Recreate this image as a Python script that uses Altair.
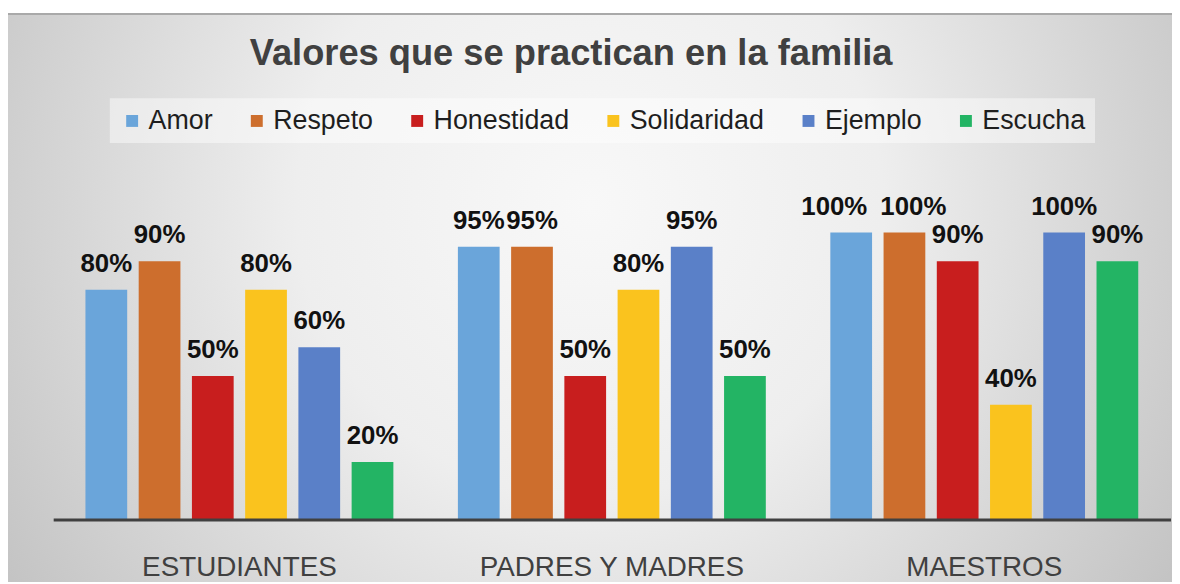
import altair as alt
import pandas as pd

grupos = ["ESTUDIANTES", "PADRES Y MADRES", "MAESTROS"]
valores = ["Amor", "Respeto", "Honestidad", "Solidaridad", "Ejemplo", "Escucha"]
colores = ["#6AA5DA", "#CD6E2D", "#C81E1E", "#FAC31E", "#5A80C8", "#23B464"]

estudiantes = [0.80, 0.90, 0.50, 0.80, 0.60, 0.20]
padres = [0.95, 0.95, 0.50, 0.80, 0.95, 0.50]
maestros = [1.00, 1.00, 0.90, 0.40, 1.00, 0.90]

rows = []
for g, serie in zip(grupos, [estudiantes, padres, maestros]):
    for v, p in zip(valores, serie):
        rows.append({"grupo": g, "valor": v, "pct": p})
df = pd.DataFrame(rows)

W, H = 1125, 289
FONT = "Liberation Sans"

bg = alt.Chart(pd.DataFrame({"k": [0]})).mark_rect(
    fill={
        "gradient": "radial",
        "x1": 0.5, "y1": 0.42, "r1": 0,
        "x2": 0.5, "y2": 0.42, "r2": 0.72,
        "stops": [
            {"offset": 0, "color": "#f8f8f8"},
            {"offset": 0.35, "color": "#eeeeee"},
            {"offset": 1, "color": "#b4b4b4"},
        ],
    }
).encode(
    x=alt.value(-46.5), x2=alt.value(1126.5), y=alt.value(-220), y2=alt.value(352)
)

top_line = alt.Chart(pd.DataFrame({"k": [0]})).mark_rule(
    color="#a9a9a9", strokeWidth=2
).encode(x=alt.value(-46.5), x2=alt.value(1126.5), y=alt.value(-220))

x_enc = alt.X(
    "grupo:N", sort=grupos, title=None,
    scale=alt.Scale(paddingInner=0, paddingOuter=0),
    axis=alt.Axis(
        domainColor="#404040", domainWidth=3, ticks=False, tickSize=0,
        labelFont=FONT, labelFontSize=28, labelColor="#404040",
        labelBaseline="alphabetic", labelPadding=56, labelAngle=0,
        labelLimit=500, grid=False, zindex=1,
    ),
)
xo_enc = alt.XOffset("valor:N", sort=valores,
                     scale=alt.Scale(paddingInner=0.216, paddingOuter=0.606))
y_enc = alt.Y("pct:Q", axis=None, scale=alt.Scale(domain=[0, 1], nice=False, zero=True))

bars = alt.Chart(df).mark_bar().encode(
    x=x_enc, xOffset=xo_enc, y=y_enc,
    color=alt.Color(
        "valor:N", sort=valores,
        scale=alt.Scale(domain=valores, range=colores),
        legend=alt.Legend(
            title=None, orient="none", direction="horizontal",
            legendX=57, legendY=-135,
            fillColor="rgba(255,255,255,0.45)", padding=9,
            symbolType="square", symbolSize=144, symbolStrokeWidth=0,
            symbolOpacity=1,
            labelFont=FONT, labelFontSize=27, labelColor="#1e1e1e",
            labelOffset=3, columnPadding=30.5, labelLimit=400,
        ),
    ),
)

def labels(data_filter=None, dx=0):
    base = alt.Chart(df)
    if data_filter is not None:
        base = base.transform_filter(data_filter)
    return base.mark_text(
        font=FONT, fontSize=26, fontWeight="bold", color="#111111",
        baseline="alphabetic", align="center", dy=-18, dx=dx,
    ).encode(
        x=alt.X("grupo:N", sort=grupos),
        xOffset=alt.XOffset("valor:N", sort=valores),
        y=alt.Y("pct:Q"),
        text=alt.Text("pct:Q", format=".0%"),
    )

lbl_main = labels("!(datum.grupo == 'MAESTROS' && (datum.valor == 'Amor' || datum.valor == 'Respeto'))")
lbl_m_amor = labels("datum.grupo == 'MAESTROS' && datum.valor == 'Amor'", dx=-17)
lbl_m_resp = labels("datum.grupo == 'MAESTROS' && datum.valor == 'Respeto'", dx=9)

chart = alt.layer(bg, top_line, bars, lbl_main, lbl_m_amor, lbl_m_resp).properties(
    width=W, height=H,
    title=alt.TitleParams(
        "Valores que se practican en la familia",
        font=FONT, fontSize=36.5, fontWeight="bold", color="#404040",
        anchor="middle", baseline="alphabetic", dx=-41, offset=-89,
    ),
    autosize=alt.AutoSizeParams(type="none"),
    padding={"left": 45.5, "top": 224, "right": 1.5, "bottom": 63},
).configure_view(stroke=None).configure(background="white")

chart.save("out.html", embed_options={"renderer": "svg", "actions": False})
